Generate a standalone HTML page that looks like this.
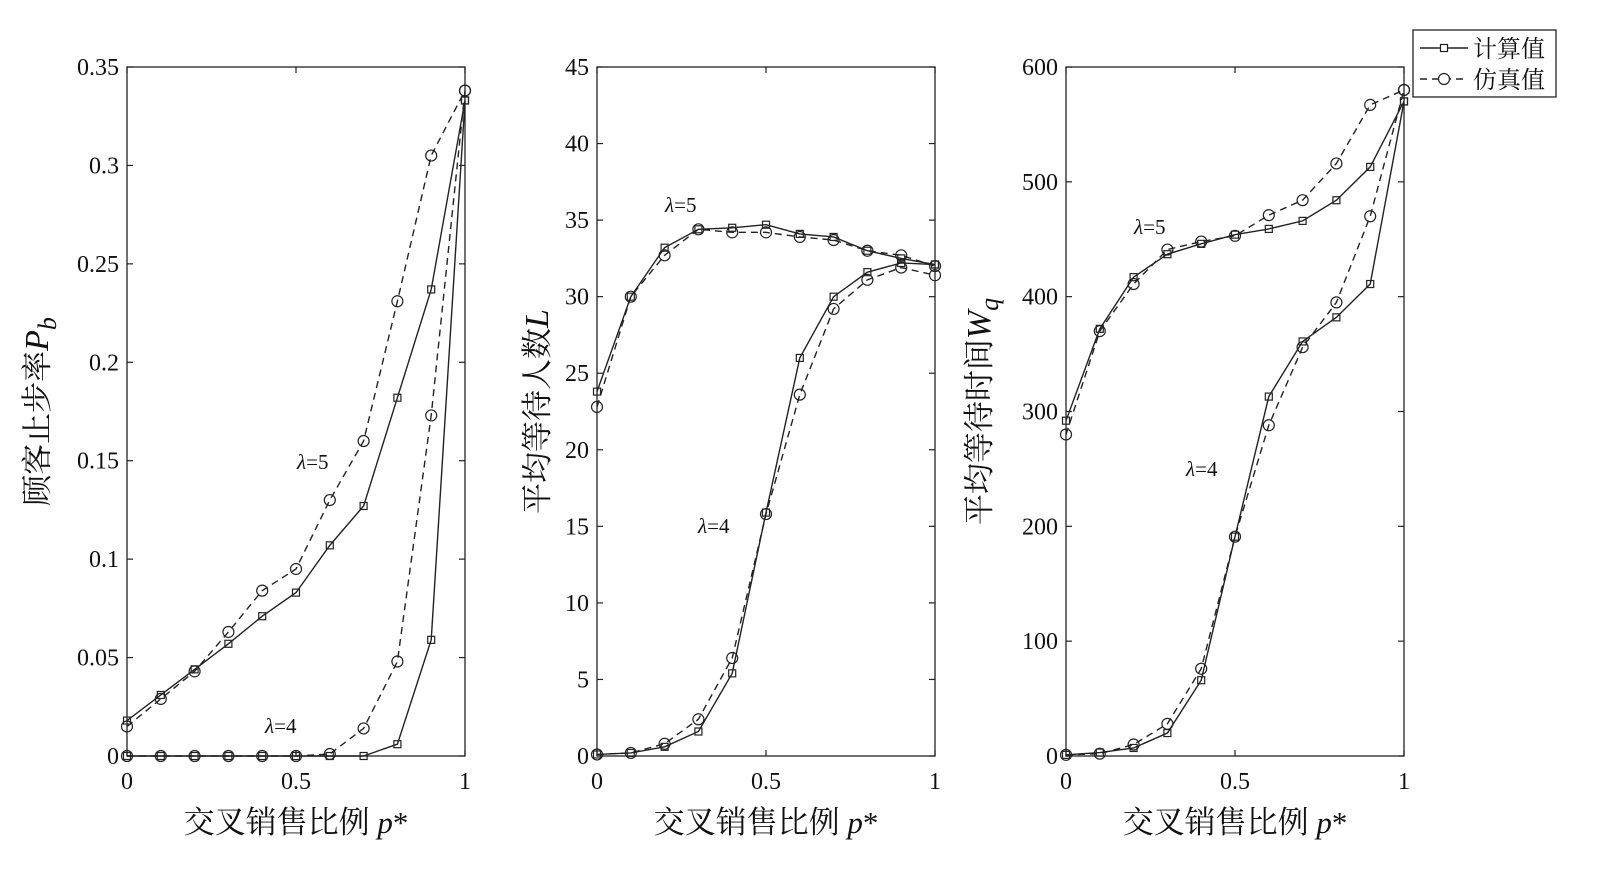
<!DOCTYPE html>
<html><head><meta charset="utf-8"><style>
html,body{margin:0;padding:0;background:#fff;}
svg text{font-family:"Liberation Serif","Noto Serif CJK SC",serif;fill:#111;}
</style></head><body>
<svg id="chart" width="1600" height="869" viewBox="0 0 1600 869" xmlns="http://www.w3.org/2000/svg"></svg>
<script>
const xCats=[0,0.1,0.2,0.3,0.4,0.5,0.6,0.7,0.8,0.9,1];
const pbL5Calc=[0.018,0.031,0.044,0.057,0.071,0.083,0.107,0.127,0.182,0.237,0.333];
const pbL5Sim=[0.015,0.029,0.043,0.063,0.084,0.095,0.130,0.160,0.231,0.305,0.338];
const pbL4Calc=[0,0,0,0,0,0,0,0,0.006,0.059,0.333];
const pbL4Sim=[0,0,0,0,0,0,0.001,0.014,0.048,0.173,0.338];
const lL5Calc=[23.8,30.0,33.2,34.4,34.5,34.7,34.1,33.9,33.0,32.5,32.1];
const lL5Sim=[22.8,30.0,32.7,34.4,34.2,34.2,33.9,33.7,33.0,32.7,32.0];
const lL4Calc=[0.1,0.2,0.6,1.6,5.4,15.9,26.0,30.0,31.6,32.2,32.1];
const lL4Sim=[0.1,0.2,0.8,2.4,6.4,15.8,23.6,29.2,31.1,31.9,31.4];
const wL5Calc=[292,372,417,437,446,454,459,466,484,513,570];
const wL5Sim=[280,370,411,441,448,453,471,484,516,567,580];
const wL4Calc=[1,3,7,20,66,191,313,361,382,411,570];
const wL4Sim=[1,2,10,28,76,191,288,356,395,470,580];
const pbTicks=[0,0.05,0.1,0.15,0.2,0.25,0.3,0.35];
const pbTickLabels=["0","0.05","0.1","0.15","0.2","0.25","0.3","0.35"];
const lTicks=[0,5,10,15,20,25,30,35,40,45];
const wTicks=[0,100,200,300,400,500,600];
const xTicks=[0,0.5,1];
const xTickLabels=["0","0.5","1"];

const svg=document.getElementById('chart');
const NS='http://www.w3.org/2000/svg';
function mk(tag,attrs,parent){const e=document.createElementNS(NS,tag);for(const k in attrs)e.setAttribute(k,attrs[k]);(parent||svg).appendChild(e);return e;}
function txt(s,attrs,parent){const e=mk('text',attrs,parent);e.textContent=s;return e;}

const plotTop=67,plotBottom=756;
function panel(opt){
  const g=mk('g',{});
  
  
  const L=opt.left,R=opt.left+338;
  const sx=v=>L+v*(R-L);
  const sy=v=>plotBottom-(v/opt.ymax)*(plotBottom-plotTop);
  const box=mk('rect',{x:L,y:plotTop,width:R-L,height:plotBottom-plotTop,fill:'none',stroke:'#222','stroke-width':1.3},g);
  
  
  opt.yticks.forEach((t,i)=>{
    const y=sy(t);
    mk('line',{x1:L,x2:L+6,y1:y,y2:y,stroke:'#222','stroke-width':1.2},g);
    mk('line',{x1:R,x2:R-6,y1:y,y2:y,stroke:'#222','stroke-width':1.2},g);
    const tl=txt(opt.ylabels?opt.ylabels[i]:String(t),{x:L-8,y:y+8,'font-size':24,'text-anchor':'end'},g);
    
    
  });
  xTicks.forEach((t,i)=>{
    const x=sx(t);
    mk('line',{x1:x,x2:x,y1:plotBottom,y2:plotBottom-6,stroke:'#222','stroke-width':1.2},g);
    mk('line',{x1:x,x2:x,y1:plotTop,y2:plotTop+6,stroke:'#222','stroke-width':1.2},g);
    const tl=txt(xTickLabels[i],{x:x,y:plotBottom+33,'font-size':24,'text-anchor':'middle'},g);
    
    
  });
  const xt=txt('交叉销售比例 ',{x:L+169,y:833,'font-size':31,'text-anchor':'middle'},g);
  const ts=mk('tspan',{'font-style':'italic'},xt); ts.textContent='p';
  const ts2=mk('tspan',{},xt); ts2.textContent='*';
  
  
  const yt=txt(opt.ytitle,{x:0,y:0,'font-size':31,'text-anchor':'middle',transform:`translate(${opt.ytx},${(plotTop+plotBottom)/2}) rotate(-90)`},g);
  const v1=mk('tspan',{'font-style':'italic','font-size':34},yt); v1.textContent=opt.yvar;
  if(opt.ysub){const v2=mk('tspan',{'font-style':'italic','font-size':26,dy:8},yt); v2.textContent=opt.ysub;}
  
  
  opt.series.forEach(s=>{
    const pts=xCats.map((x,i)=>[sx(x),sy(s.vals[i])]);
    const pl=mk('polyline',{points:pts.map(p=>p.join(',')).join(' '),fill:'none',stroke:'#222','stroke-width':1.4,'stroke-dasharray':s.sim?'7,5':'none'},g);
    
    
    pts.forEach(p=>{
      let m;
      if(s.sim) m=mk('circle',{cx:p[0],cy:p[1],r:5.5,fill:'none',stroke:'#222','stroke-width':1.2},g);
      else m=mk('rect',{x:p[0]-3.5,y:p[1]-3.5,width:7,height:7,fill:'none',stroke:'#222','stroke-width':1.2},g);
      
      
    });
  });
  opt.ann.forEach(a=>{
    const t=txt('',{x:a[0],y:a[1],'font-size':21},g);
    const l=mk('tspan',{'font-style':'italic'},t); l.textContent='λ';
    const r=mk('tspan',{},t); r.textContent='='+a[2];
    
    
  });
}
panel({name:'panel-pb',left:127,ymax:0.35,yticks:pbTicks,ylabels:pbTickLabels,ytx:48,
  ytitle:'顾客止步率',yvar:'P',ysub:'b',
  series:[{name:'pb-l5-calc',vals:pbL5Calc},{name:'pb-l5-sim',vals:pbL5Sim,sim:1},{name:'pb-l4-calc',vals:pbL4Calc},{name:'pb-l4-sim',vals:pbL4Sim,sim:1}],
  ann:[[297,469,5],[265,733,4]]});
panel({name:'panel-l',left:597,ymax:45,yticks:lTicks,ytx:548,
  ytitle:'平均等待人数',yvar:'L',
  series:[{name:'l-l5-calc',vals:lL5Calc},{name:'l-l5-sim',vals:lL5Sim,sim:1},{name:'l-l4-calc',vals:lL4Calc},{name:'l-l4-sim',vals:lL4Sim,sim:1}],
  ann:[[665,212,5],[698,533,4]]});
panel({name:'panel-wq',left:1066,ymax:600,yticks:wTicks,ytx:990,
  ytitle:'平均等待时间',yvar:'W',ysub:'q',
  series:[{name:'wq-l5-calc',vals:wL5Calc},{name:'wq-l5-sim',vals:wL5Sim,sim:1},{name:'wq-l4-calc',vals:wL4Calc},{name:'wq-l4-sim',vals:wL4Sim,sim:1}],
  ann:[[1134,234,5],[1186,476,4]]});
const lg=mk('g',{});


mk('rect',{x:1413,y:30,width:143,height:67,fill:'#fff',stroke:'#222','stroke-width':1.3},lg);
mk('line',{x1:1420,x2:1468,y1:48,y2:48,stroke:'#222','stroke-width':1.4},lg);
mk('rect',{x:1440.5,y:44.5,width:7,height:7,fill:'#fff',stroke:'#222','stroke-width':1.2},lg);
const l1=txt('计算值',{x:1473,y:57,'font-size':24},lg);


mk('line',{x1:1420,x2:1468,y1:79,y2:79,stroke:'#222','stroke-width':1.4,'stroke-dasharray':'7,5'},lg);
mk('circle',{cx:1444,cy:79,r:5.5,fill:'#fff',stroke:'#222','stroke-width':1.2},lg);
const l2=txt('仿真值',{x:1473,y:88,'font-size':24},lg);


</script>
</body></html>
